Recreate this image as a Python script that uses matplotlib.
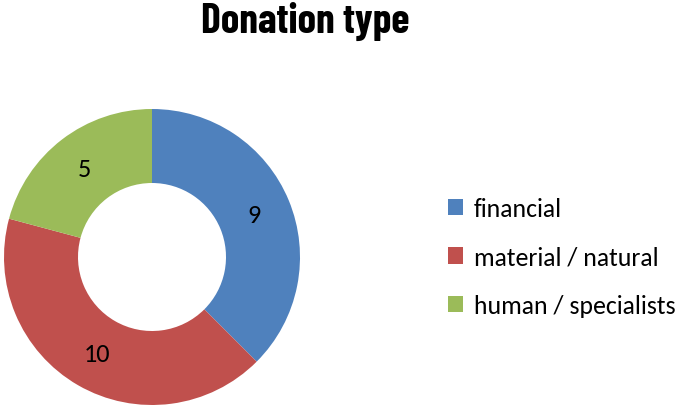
import matplotlib
matplotlib.use("Agg")
import matplotlib.pyplot as plt

categories = ["financial", "material / natural", "human / specialists"]
values = [9, 10, 5]
colors = ["#4F81BD", "#C0504D", "#9BBB59"]
title = "Donation type"

W, H = 677, 406
fig = plt.figure(figsize=(W / 100, H / 100), dpi=100)

body_font = ["Carlito", "Lato", "DejaVu Sans"]

cx, cy, r = 152, 258, 148
ax = fig.add_axes([(cx - r) / W, (H - cy - r) / H, 2 * r / W, 2 * r / H])
wedges, texts = ax.pie(values, colors=colors, startangle=90, counterclock=False,
                       radius=1.0, labels=[str(v) for v in values], labeldistance=0.75,
                       wedgeprops=dict(width=0.5, linewidth=0),
                       textprops=dict(fontsize=19, family=body_font, color="black"))
for t in texts:
    t.set_horizontalalignment("center")
    t.set_verticalalignment("center")
ax.set_xlim(-1, 1)
ax.set_ylim(-1, 1)
ax.set_aspect("equal")
ax.axis("off")

fig.text(305 / W, 1 - 33 / H, title, ha="center", va="baseline",
         fontsize=30, fontweight="bold",
         family=["Barlow Condensed", "Roboto Condensed", "DejaVu Sans"])

leg = fig.legend(wedges, categories, loc="center left",
                 bbox_to_anchor=(448 / W, 1 - 258 / H), frameon=False,
                 prop=dict(family=body_font, size=18.5),
                 handlelength=0.6, handleheight=0.6, handletextpad=0.42,
                 labelspacing=1.0, borderpad=0, borderaxespad=0)

fig.savefig("out.png", dpi=100)
